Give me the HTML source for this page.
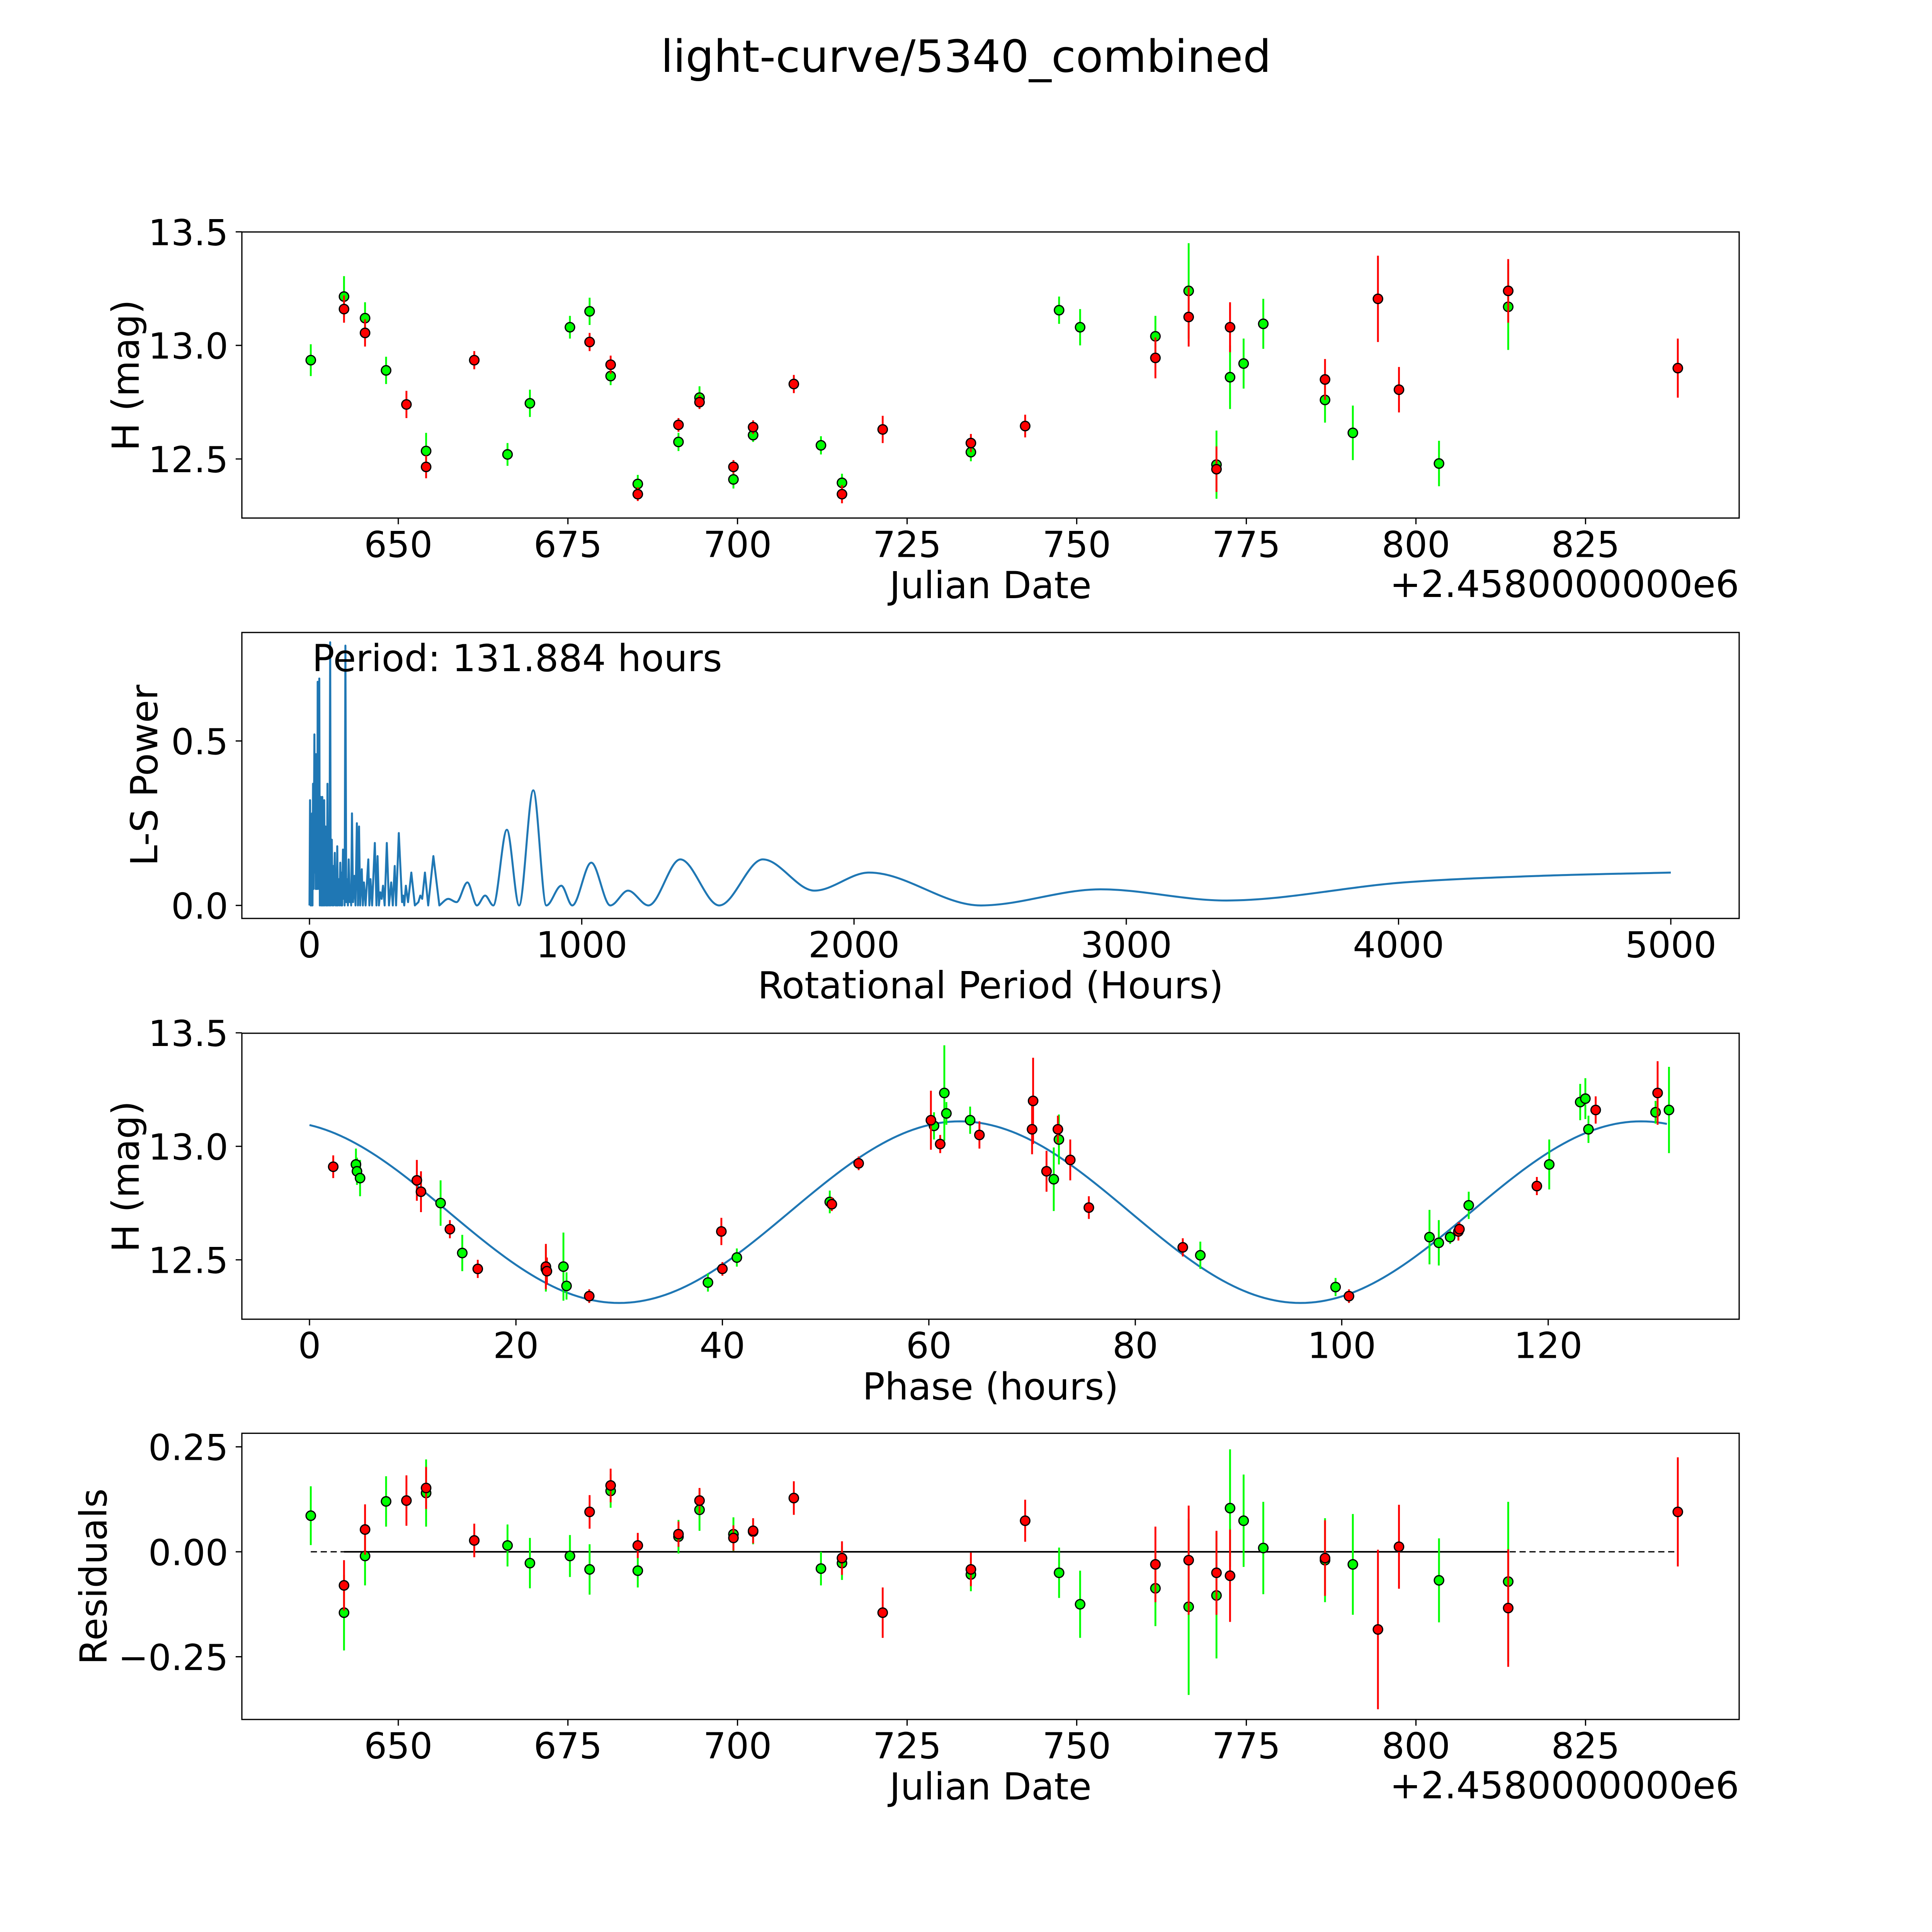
<!DOCTYPE html>
<html><head><meta charset="utf-8"><style>
html,body{margin:0;padding:0;background:#fff;overflow:hidden;}
svg{display:block;width:100vw;height:100vh;font-family:"DejaVu Sans","Liberation Sans",sans-serif;}
</style></head><body>
<svg id="fig" viewBox="0 0 1560 1560" preserveAspectRatio="xMidYMid meet" xmlns="http://www.w3.org/2000/svg">
<rect x="0" y="0" width="1560" height="1560" fill="#fff"/>
<text x="780" y="58" font-size="36" text-anchor="middle">light-curve/5340_combined</text>
<g id="g1"></g><g id="g2"></g><g id="g3"></g><g id="g4"></g>
</svg>
<script>
// ---- light curve data (Julian date offset, mag, error) ----
const greenDates=[637.1,642.0,645.1,648.2,654.1,666.1,669.4,675.3,678.2,681.3,685.3,691.3,694.4,699.4,702.3,712.3,715.4,734.4,747.4,750.5,761.6,766.5,770.6,772.6,774.6,777.5,786.6,790.7,803.4,813.6];
const greenMags=[12.935,13.215,13.12,12.89,12.535,12.52,12.745,13.08,13.15,12.865,12.39,12.575,12.77,12.41,12.605,12.56,12.395,12.53,13.155,13.08,13.04,13.24,12.475,12.86,12.92,13.095,12.76,12.615,12.48,13.17];
const greenErrs=[0.07,0.09,0.07,0.06,0.08,0.05,0.06,0.05,0.06,0.04,0.04,0.04,0.05,0.04,0.03,0.04,0.04,0.04,0.06,0.08,0.09,0.21,0.15,0.14,0.11,0.11,0.1,0.12,0.1,0.19];
const greenResid=[0.086,-0.145,-0.01,0.12,0.14,0.015,-0.027,-0.01,-0.042,0.145,-0.045,0.036,0.1,0.042,0.048,-0.04,-0.027,-0.054,-0.05,-0.125,-0.087,-0.131,-0.104,0.104,0.074,0.009,-0.02,-0.03,-0.068,-0.071];
const redDates=[642.0,645.1,651.2,654.1,661.2,678.2,681.3,685.3,691.3,694.4,699.4,702.3,708.3,715.4,721.4,734.4,742.4,761.6,766.5,770.6,772.6,786.6,794.4,797.5,813.6,838.6];
const redMags=[13.16,13.055,12.74,12.465,12.935,13.015,12.915,12.345,12.65,12.75,12.465,12.64,12.83,12.345,12.63,12.57,12.645,12.945,13.125,12.455,13.08,12.85,13.205,12.805,13.24,12.9];
const redErrs=[0.06,0.06,0.06,0.05,0.04,0.04,0.04,0.03,0.03,0.03,0.03,0.03,0.04,0.04,0.06,0.04,0.05,0.09,0.13,0.1,0.11,0.09,0.19,0.1,0.14,0.13];
const redResid=[-0.08,0.053,0.122,0.152,0.027,0.095,0.158,0.015,0.042,0.122,0.033,0.05,0.128,-0.015,-0.145,-0.042,0.074,-0.03,-0.02,-0.05,-0.057,-0.015,-0.185,0.012,-0.134,0.095];
// ---- phased data ----
const greenPhase=[4.5,4.6,4.9,12.7,14.8,22.9,24.6,24.9,38.6,41.4,50.4,60.5,61.5,61.7,64.0,72.1,72.6,86.3,99.4,108.5,109.4,110.5,112.3,120.1,123.1,123.6,123.9,130.4,131.7];
const greenPhaseMag=[12.92,12.89,12.86,12.75,12.53,12.46,12.47,12.385,12.40,12.51,12.755,13.09,13.235,13.145,13.115,12.855,13.03,12.52,12.38,12.60,12.575,12.6,12.74,12.92,13.195,13.21,13.075,13.15,13.16];
const greenPhaseErr=[0.07,0.06,0.08,0.1,0.08,0.1,0.15,0.06,0.04,0.04,0.05,0.06,0.21,0.05,0.06,0.14,0.11,0.06,0.04,0.12,0.1,0.03,0.06,0.11,0.08,0.09,0.06,0.05,0.19];
const redPhase=[2.3,10.4,10.8,13.6,16.3,22.9,23.0,27.1,40.0,39.9,50.6,53.2,60.2,61.1,64.9,70.0,70.1,71.4,72.5,73.7,75.5,84.6,100.7,111.3,111.4,118.9,124.6,130.6];
const redPhaseMag=[12.91,12.85,12.80,12.635,12.46,12.47,12.45,12.34,12.46,12.625,12.745,12.925,13.115,13.01,13.05,13.075,13.2,12.89,13.075,12.94,12.73,12.555,12.34,12.625,12.635,12.825,13.16,13.235];
const redPhaseErr=[0.05,0.09,0.09,0.04,0.04,0.1,0.06,0.03,0.03,0.06,0.03,0.03,0.13,0.04,0.06,0.11,0.19,0.09,0.06,0.09,0.05,0.04,0.03,0.04,0.03,0.04,0.06,0.14];
// ---- fit parameters: mean, amplitude, period, phase of max ----
const fitParams=[12.71,0.40,66,63];
// ---- periodogram ----
const lsSpikePeriod=[0,2,4,6,7.5,9.6,11,13,15,18,20,22,23,24,26,28,29,30,32,34,35,36,38,41,43,45,46,47,49,51,52,54,56,59,61,63,64,66,68,71,73,76,78,82,84,87,89,93,96,99,100,102,104,108,110,113,116,119,120,123,126,128,129,131.9,135,138,141,144,148,152,153,156,160,165,169,174,178,182,186,192,196,200,206,216,220,224,230,240,246,250,255,260,265,270,276,284,292,300,306,313,318,328,340,344,348,354,362,374,387,400,407,414,424,436,455,477];
const lsSpikePower=[0,0.32,0,0.2,0,0.28,0,0.37,0.05,0.52,0.1,0.3,0.05,0.46,0.05,0.35,0.05,0.68,0.1,0.5,0.05,0.69,0,0.33,0,0.2,0,0.33,0,0.22,0,0.32,0,0.24,0,0.15,0,0.37,0,0.1,0,0.8,0,0.2,0,0.12,0,0.16,0,0.1,0,0.18,0,0.08,0,0.13,0,0.1,0,0.17,0.02,0.1,0,0.79,0.01,0.08,0,0.14,0.01,0.06,0,0.28,0.01,0.09,0,0.25,0,0.24,0,0.11,0,0.07,0,0.14,0,0.08,0,0.19,0,0.15,0,0.04,0.02,0.06,0,0.19,0,0.07,0,0.12,0,0.22,0.01,0.03,0,0.06,0.01,0.10,0,0.01,0.03,0.02,0.10,0,0.15,0];
const lsSmoothPeriod=[477,510,540,580,615,645,675,725,770,822,870,925,965,1035,1105,1170,1245,1362,1505,1665,1855,2055,2465,2905,3365,4020,4520,5000];
const lsSmoothPower=[0,0.02,0.01,0.07,0,0.03,0,0.23,0,0.35,0,0.06,0,0.13,0,0.045,0,0.14,0,0.14,0.045,0.1,0,0.049,0.015,0.07,0.09,0.1];
// ---- ticks ----
const jdTicks=[650,675,700,725,750,775,800,825];
const magTicks=[12.5,13.0,13.5];
const magTickLabels=["12.5","13.0","13.5"];
const lsXTicks=[0,1000,2000,3000,4000,5000];
const lsYTicks=[0,0.5];
const lsYTickLabels=["0.0","0.5"];
const phaseTicks=[0,20,40,60,80,100,120];
const residTicks=[-0.25,0,0.25];
const residTickLabels=["\u22120.25","0.00","0.25"];

const NS="http://www.w3.org/2000/svg";
function mk(parent,tag,attrs,text){const e=document.createElementNS(NS,tag);for(const k in attrs)e.setAttribute(k,attrs[k]);if(text!==undefined)e.textContent=text;parent.appendChild(e);return e;}
const L=195.3,R=1404.3,CX=(L+R)/2;
const xJD=d=>321.6+(d-650)*5.478;
const y1=m=>278.9-(m-13)*183.4;
const xLS=h=>249.9+h*0.21984;
const y2=p=>731.1-p*265.6;
const xPh=f=>249.9+f*8.335;
const y3=m=>925.6-(m-13)*183.3;
const y4=r=>1253-r*339;
const TF=29, LF=30;

function frame(g,top,bot,name){
  const r=mk(g,'rect',{x:L,y:top,width:R-L,height:bot-top,fill:'none',stroke:'#000','stroke-width':1});
  
  
}
function xticks(g,vals,labels,fx,bot,name){
  vals.forEach((v,i)=>{const x=fx(v);
    const t=mk(g,'line',{x1:x,x2:x,y1:bot,y2:bot+5,stroke:'#000','stroke-width':1});
    
    
    const l=mk(g,'text',{x:x,y:bot+31.4,'font-size':TF,'text-anchor':'middle'},labels[i]);
    
    
  });
}
function yticks(g,vals,labels,fy,name){
  vals.forEach((v,i)=>{const y=fy(v);
    const t=mk(g,'line',{x1:L-5,x2:L,y1:y,y2:y,stroke:'#000','stroke-width':1});
    
    
    const l=mk(g,'text',{x:L-11,y:y+10.7,'font-size':TF,'text-anchor':'end'},labels[i]);
    
    
  });
}
function label(g,x,y,txt,name,rot){
  const a={x:x,y:y,'font-size':LF,'text-anchor':'middle'};
  if(rot)a.transform='rotate(-90 '+x+' '+y+')';
  const l=mk(g,'text',a,txt);
  
  
}
function points(g,xs,ys,es,fx,fy,color,name){
  xs.forEach((v,i)=>{const x=fx(v);
    const eb=mk(g,'line',{x1:x,x2:x,y1:fy(ys[i]+es[i]),y2:fy(ys[i]-es[i]),stroke:color,'stroke-width':1.5});
    
    
  });
  xs.forEach((v,i)=>{const x=fx(v),y=fy(ys[i]);
    const c=mk(g,'circle',{cx:x,cy:y,r:3.8,fill:color,stroke:'#000','stroke-width':1});
    
    
  });
}
const jdLabels=jdTicks.map(String);
// Panel 1
const g1=document.getElementById('g1');
frame(g1,187.3,418.3,'lightcurve');
xticks(g1,jdTicks,jdLabels,xJD,418.3,'lightcurve');
yticks(g1,magTicks,magTickLabels,y1,'lightcurve');
label(g1,CX,483,'Julian Date','lightcurve-x-title');
label(g1,112,303,'H (mag)','lightcurve-y-title',true);
let o=mk(g1,'text',{x:R,y:482,'font-size':LF,'text-anchor':'end'},'+2.4580000000e6');


points(g1,greenDates,greenMags,greenErrs,xJD,y1,'#00ff00','green');
points(g1,redDates,redMags,redErrs,xJD,y1,'#ff0000','red');
// Panel 2
const g2=document.getElementById('g2');
frame(g2,510.7,741.6,'periodogram');
xticks(g2,lsXTicks,lsXTicks.map(String),xLS,741.6,'periodogram');
yticks(g2,lsYTicks,lsYTickLabels,y2,'periodogram');
label(g2,CX,806,'Rotational Period (Hours)','periodogram-x-title');
label(g2,127,626,'L-S Power','periodogram-y-title',true);
let d='';
lsSpikePeriod.forEach((p,i)=>{d+=(i?'L':'M')+xLS(p).toFixed(2)+' '+y2(lsSpikePower[i]).toFixed(2);});
(function(){
  const xs=lsSmoothPeriod.map(xLS),ys=lsSmoothPower.map(y2),n=xs.length;
  const dl=[],m=[];
  for(let i=0;i<n-1;i++)dl.push((ys[i+1]-ys[i])/(xs[i+1]-xs[i]));
  for(let i=0;i<n;i++){
    if(i===0)m.push(dl[0]);else if(i===n-1)m.push(dl[n-2]);
    else m.push(dl[i-1]*dl[i]<=0?0:(dl[i-1]+dl[i])/2);
  }
  for(let i=0;i<n-1;i++){
    if(dl[i]===0){m[i]=0;m[i+1]=0;continue;}
    const a=m[i]/dl[i],b=m[i+1]/dl[i],s=a*a+b*b;
    if(s>9){const t=3/Math.sqrt(s);m[i]=t*a*dl[i];m[i+1]=t*b*dl[i];}
  }
  for(let i=0;i<n-1;i++){const h=xs[i+1]-xs[i];
    d+='C'+(xs[i]+h/3).toFixed(2)+' '+(ys[i]+m[i]*h/3).toFixed(2)+' '+(xs[i+1]-h/3).toFixed(2)+' '+(ys[i+1]-m[i+1]*h/3).toFixed(2)+' '+xs[i+1].toFixed(2)+' '+ys[i+1].toFixed(2);}
})();
const pl=mk(g2,'path',{d:d,fill:'none',stroke:'#1f77b4','stroke-width':1.6,'stroke-linejoin':'round'});


o=mk(g2,'text',{x:252,y:542,'font-size':LF},'Period: 131.884 hours');


// Panel 3
const g3=document.getElementById('g3');
frame(g3,834.3,1065.2,'phased');
xticks(g3,phaseTicks,phaseTicks.map(String),xPh,1065.2,'phased');
yticks(g3,magTicks,magTickLabels,y3,'phased');
label(g3,CX,1130,'Phase (hours)','phased-x-title');
label(g3,112,950,'H (mag)','phased-y-title',true);
let fd='';
for(let f=0;f<=131.9;f+=0.5){const m=fitParams[0]+fitParams[1]*Math.cos(2*Math.PI*(f-fitParams[3])/fitParams[2]);fd+=(f?'L':'M')+xPh(f).toFixed(2)+' '+y3(m).toFixed(2);}
const fl=mk(g3,'path',{d:fd,fill:'none',stroke:'#1f77b4','stroke-width':1.6});


points(g3,greenPhase,greenPhaseMag,greenPhaseErr,xPh,y3,'#00ff00','phased-green');
points(g3,redPhase,redPhaseMag,redPhaseErr,xPh,y3,'#ff0000','phased-red');
// Panel 4
const g4=document.getElementById('g4');
frame(g4,1157.3,1388.4,'residuals');
xticks(g4,jdTicks,jdLabels,xJD,1388.4,'residuals');
yticks(g4,residTicks,residTickLabels,y4,'residuals');
label(g4,CX,1453,'Julian Date','residuals-x-title');
label(g4,86,1273,'Residuals','residuals-y-title',true);
o=mk(g4,'text',{x:R,y:1452,'font-size':LF,'text-anchor':'end'},'+2.4580000000e6');


o=mk(g4,'line',{x1:xJD(greenDates[0]),x2:xJD(redDates[redDates.length-1]),y1:y4(0),y2:y4(0),stroke:'#000','stroke-width':1,'stroke-dasharray':'5,3'});


o=mk(g4,'line',{x1:xJD(redDates[0]),x2:xJD(greenDates[greenDates.length-1]),y1:y4(0),y2:y4(0),stroke:'#000','stroke-width':1.3});


points(g4,greenDates,greenResid,greenErrs,xJD,y4,'#00ff00','resid-green');
points(g4,redDates,redResid,redErrs,xJD,y4,'#ff0000','resid-red');
</script>
</body></html>
